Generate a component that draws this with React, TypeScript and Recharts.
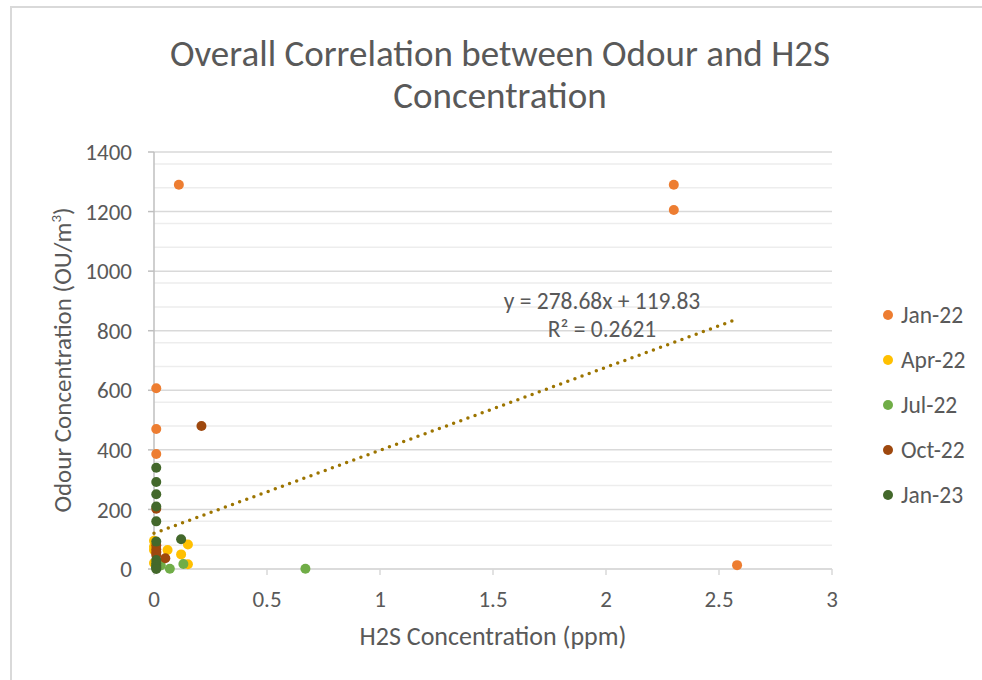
import { ScatterChart, Scatter, XAxis, YAxis, CartesianGrid, Legend } from 'recharts'

// H2S (ppm) vs odour (OU/m3), one list per sampling round
const jan22 = [
  { x: 0.11, y: 1290 }, { x: 2.3, y: 1290 }, { x: 2.3, y: 1205 }, { x: 2.58, y: 13 },
  { x: 0.01, y: 607 }, { x: 0.01, y: 470 }, { x: 0.01, y: 386 }, { x: 0.01, y: 58 },
]
const apr22 = [
  { x: 0.0, y: 95 }, { x: 0.15, y: 82 }, { x: 0.0, y: 64 }, { x: 0.06, y: 64 },
  { x: 0.12, y: 49 }, { x: 0.15, y: 16 }, { x: 0.0, y: 20 }, { x: 0.0, y: 75 },
]
const jul22 = [
  { x: 0.67, y: 1 }, { x: 0.13, y: 17 }, { x: 0.07, y: 1 }, { x: 0.03, y: 12 }, { x: 0.01, y: 5 },
]
const oct22 = [
  { x: 0.21, y: 480 }, { x: 0.01, y: 202 }, { x: 0.01, y: 66 }, { x: 0.01, y: 47 },
  { x: 0.05, y: 36 }, { x: 0.01, y: 80 }, { x: 0.01, y: 55 },
]
const jan23 = [
  { x: 0.01, y: 340 }, { x: 0.01, y: 292 }, { x: 0.01, y: 251 }, { x: 0.01, y: 210 },
  { x: 0.01, y: 160 }, { x: 0.01, y: 92 }, { x: 0.12, y: 100 }, { x: 0.01, y: 30 },
  { x: 0.01, y: 19 }, { x: 0.01, y: 12 }, { x: 0.01, y: 5 }, { x: 0.01, y: 0 },
]
// linear trendline y = 278.68x + 119.83, drawn between its end points
const trend = [{ x: 0, y: 119.83 }, { x: 2.58, y: 838.8 }]

const xTicks = [0, 0.5, 1, 1.5, 2, 2.5, 3]
const yTicks = [0, 200, 400, 600, 800, 1000, 1200, 1400]
const yMinorTicks = [40, 80, 120, 160, 240, 280, 320, 360, 440, 480, 520, 560, 640, 680,
  720, 760, 840, 880, 920, 960, 1040, 1080, 1120, 1160, 1240, 1280, 1320, 1360]

const series = [
  { name: 'Jan-22', data: jan22, color: '#ED7D31' },
  { name: 'Apr-22', data: apr22, color: '#FFC000' },
  { name: 'Jul-22', data: jul22, color: '#70AD47' },
  { name: 'Oct-22', data: oct22, color: '#9E480E' },
  { name: 'Jan-23', data: jan23, color: '#43682B' },
]

const FONT = "Carlito, Calibri, 'Open Sans', sans-serif"
const TEXT = '#595959'

const dot = (color: string) => (props: any) => (
  <circle cx={props.cx} cy={props.cy} r={5} fill={color} />
)

export default function App() {
  return (
    <div style={{ position: 'absolute', left: 0, top: 0, width: 982, height: 680, background: '#fff', fontFamily: FONT, overflow: 'hidden' }}>
      <div style={{ position: 'absolute', left: 10, top: 6, width: 1000, height: 700, borderLeft: '2px solid #D9D9D9', borderTop: '2px solid #D9D9D9' }} />

      <div style={{ position: 'absolute', left: 0, width: 1000, top: 33, textAlign: 'center', fontSize: 37, lineHeight: '42px', color: TEXT }}>
        Overall Correlation between Odour and H2S<br />Concentration
      </div>

      <div style={{ position: 'absolute', left: 0, top: 0 }}>
        <ScatterChart width={982} height={680} margin={{ top: 152, right: 50, bottom: 0, left: 0 }}>
          <CartesianGrid vertical={false} horizontalValues={yMinorTicks} stroke="#EDEDED" strokeWidth={1.5} />
          <CartesianGrid vertical={false} stroke="#D9D9D9" strokeWidth={1.5} />
          <XAxis
            type="number" dataKey="x" domain={[0, 3]} ticks={xTicks} height={111}
            tick={{ fontSize: 23, fill: TEXT, fontFamily: FONT }}
            axisLine={{ stroke: '#D9D9D9', strokeWidth: 1.5 }}
            tickLine={{ stroke: '#D9D9D9', strokeWidth: 1.5 }}
            tickSize={6} tickMargin={16}
          />
          <YAxis
            type="number" dataKey="y" domain={[0, 1400]} ticks={yTicks} width={154}
            tick={{ fontSize: 23, fill: TEXT, fontFamily: FONT }}
            axisLine={{ stroke: '#BFBFBF', strokeWidth: 1.5 }}
            tickLine={{ stroke: '#BFBFBF', strokeWidth: 1.5 }}
            tickSize={6} tickMargin={16}
          />
          {series.map((s) => (
            <Scatter key={s.name} name={s.name} data={s.data} fill={s.color} shape={dot(s.color)} isAnimationActive={false} />
          ))}
          <Scatter
            name="trend" data={trend} legendType="none" isAnimationActive={false}
            line={{ stroke: '#9C7400', strokeWidth: 3.5, strokeDasharray: '0 7.6', strokeLinecap: 'round' }}
            shape={() => null}
          />
          <Legend
            layout="vertical" align="right" verticalAlign="top"
            wrapperStyle={{ left: 878, top: 292, width: 100 }}
            content={() => (
              <div>
                {series.map((s) => (
                  <div key={s.name} style={{ display: 'flex', alignItems: 'center', height: 45, fontSize: 23.5, color: TEXT, fontFamily: FONT }}>
                    <span style={{ width: 10, height: 10, borderRadius: 5, background: s.color, marginLeft: 5, marginRight: 8 }} />
                    {s.name}
                  </div>
                ))}
              </div>
            )}
          />
        </ScatterChart>
      </div>

      <div style={{ position: 'absolute', left: 402, width: 400, top: 287, textAlign: 'center', fontSize: 23.5, lineHeight: '28px', color: TEXT }}>
        y = 278.68x + 119.83<br />R² = 0.2621
      </div>

      <div style={{ position: 'absolute', left: 293, width: 400, top: 620, textAlign: 'center', fontSize: 26, lineHeight: '32px', color: TEXT }}>
        H2S Concentration (ppm)
      </div>
      <div style={{ position: 'absolute', left: 62, top: 360, transform: 'translate(-50%, -50%) rotate(-90deg)', whiteSpace: 'nowrap', fontSize: 25, color: TEXT }}>
        Odour Concentration (OU/m<sup style={{ fontSize: 15 }}>3</sup>)
      </div>
    </div>
  )
}
